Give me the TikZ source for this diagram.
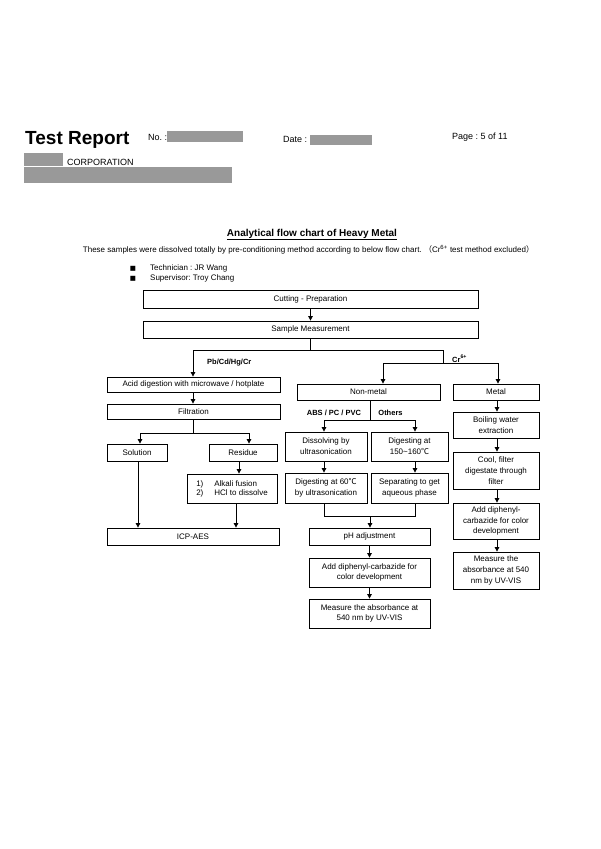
\documentclass[tikz,border=0pt]{standalone}
\usepackage{fontspec}
\setmainfont{Liberation Sans}
\newfontfamily\cjk{Noto Sans CJK SC}
\newfontfamily\dejavu{DejaVu Sans}
\usetikzlibrary{arrows.meta}
\frenchspacing
\begin{document}
\begin{tikzpicture}[x=1pt,y=-1pt,
  box/.style={draw, line width=0.8pt, inner sep=1pt, align=center, font=\fontsize{8}{10.8}\selectfont},
  bx/.style n args={2}{box, minimum width=#1pt, minimum height=#2pt},
  arr/.style={-{Triangle[length=4.5pt,width=4.5pt]}, line width=0.8pt},
  ln/.style={line width=0.8pt},
  lbl/.style={font=\bfseries\fontsize{7.5}{9}\selectfont, inner sep=0pt},
  txt/.style={inner sep=0pt},
  redact/.style={fill=black!40, draw=none}]
\useasboundingbox[fill=white] (0,0) rectangle (600,849);

% ---------- header ----------
\node[txt, anchor=base west, font=\bfseries\fontsize{19}{22}\selectfont] (tr) at (25,144) {Test Report};
\node[txt, anchor=base west, font=\fontsize{9}{11}\selectfont] (no) at (148,140) {No. :};
\fill[redact] (167,131) rectangle (243,142);
\node[txt, anchor=base west, font=\fontsize{9}{11}\selectfont] (date) at (283,142) {Date :};
\fill[redact] (310,135) rectangle (372,145);
\node[txt, anchor=base west, font=\fontsize{9}{11}\selectfont] (page) at (452,139) {Page : 5 of 11};
\fill[redact] (24,153) rectangle (63,166);
\node[txt, anchor=base west, font=\fontsize{9}{11}\selectfont] (corp) at (67,165) {CORPORATION};
\fill[redact] (24,167) rectangle (232,183);

% ---------- title ----------
\node[txt, anchor=base, font=\bfseries\fontsize{10}{12}\selectfont] (title) at (312,236) {\underline{Analytical flow chart of Heavy Metal}};
\node[txt, anchor=base, font=\fontsize{8}{10}\selectfont] (sub) at (308.5,252) {These samples were dissolved totally by pre-conditioning method according to below flow chart.\ {\cjk （}Cr\textsuperscript{6+} test method excluded{\cjk ）}};
\node[txt, anchor=base, font=\dejavu\fontsize{6.5}{8}\selectfont] (b1) at (133,270) {■};
\node[txt, anchor=base west, font=\fontsize{8}{10}\selectfont] (tech) at (150,270) {Technician : JR Wang};
\node[txt, anchor=base, font=\dejavu\fontsize{6.5}{8}\selectfont] (b2) at (133,280) {■};
\node[txt, anchor=base west, font=\fontsize{8}{10}\selectfont] (sup) at (150,280) {Supervisor: Troy Chang};

% ---------- boxes ----------
\node[bx={335}{18}] (cut) at (310.5,299) {Cutting - Preparation};
\node[bx={335}{17}] (samp) at (310.5,329.5) {Sample Measurement};

\node[bx={173}{15}] (acid) at (193.5,384.5) {Acid digestion with microwave / hotplate};
\node[bx={173}{15}] (filt) at (193.5,411.5) {Filtration};
\node[bx={60}{17}] (sol) at (137,452.5) {Solution};
\node[bx={68}{17}] (res) at (243,452.5) {Residue};
\node[bx={90}{29}] (alk) at (232,488.5) {\begin{tabular}{@{}l@{\hspace{11pt}}l@{}}1) & Alkali fusion\\[-1.5pt] 2) & HCl to dissolve\end{tabular}};
\node[bx={172}{17}] (icp) at (193,536.5) {ICP-AES};

\node[bx={143}{16}] (nonm) at (368.5,392) {Non-metal};
\node[bx={86}{16}] (metal) at (496,392) {Metal};
\node[bx={82}{29}] (diss) at (326,446.5) {Dissolving by\\ultrasonication};
\node[bx={77}{29}] (dig150) at (409.5,446.5) {Digesting at\\150\textasciitilde 160{\cjk ℃}};
\node[bx={82}{30}] (dig60) at (326,488) {Digesting at 60{\cjk ℃}\\by ultrasonication};
\node[bx={77}{30}] (sep) at (409.5,488) {Separating to get\\aqueous phase};
\node[bx={121}{17}] (ph) at (369.5,536.5) {pH adjustment};
\node[bx={121}{29}] (add) at (369.5,572.5) {Add diphenyl-carbazide for\\color development};
\node[bx={121}{29}] (meas) at (369.5,613.5) {Measure the absorbance at\\540 nm by UV-VIS};

\node[bx={86}{26}] (boil) at (496,425) {Boiling water\\extraction};
\node[bx={86}{37}] (cool) at (496,470.5) {Cool, filter\\digestate through\\filter};
\node[bx={86}{36}] (add2) at (496,521) {Add diphenyl-\\carbazide for color\\development};
\node[bx={86}{37}] (meas2) at (496,570.5) {Measure the\\absorbance at 540\\nm by UV-VIS};

% ---------- labels ----------
\node[lbl, anchor=base west] (pb) at (207,364) {Pb/Cd/Hg/Cr};
\node[lbl, anchor=base west] (cr6) at (452,362) {Cr\textsuperscript{6+}};
\node[lbl, anchor=base] (abs) at (334,415) {ABS / PC / PVC};
\node[lbl, anchor=base] (oth) at (390.5,415) {Others};

% ---------- connectors ----------
\draw[arr] (cut) -- (samp);
\coordinate (s1) at (310.5,350);
\coordinate (sL) at (193,350);
\coordinate (sR) at (443,350);
\draw[ln] (samp.south) -- (s1);
\draw[ln] (sL) -- (sR);
\draw[arr] (sL) -- (sL |- acid.north);
\coordinate (r1) at (443,363);
\coordinate (rL) at (383,363);
\coordinate (rR) at (498,363);
\draw[ln] (sR) -- (r1);
\draw[ln] (rL) -- (rR);
\draw[arr] (rL) -- (rL |- nonm.north);
\draw[arr] (rR) -- (rR |- metal.north);

% left branch
\draw[arr] (sL |- acid.south) -- (sL |- filt.north);
\coordinate (f1) at (193,433);
\coordinate (fL) at (140,433);
\coordinate (fR) at (249,433);
\draw[ln] (f1 |- filt.south) -- (f1);
\draw[ln] (fL) -- (fR);
\draw[arr] (fL) -- (fL |- sol.north);
\draw[arr] (fR) -- (fR |- res.north);
\coordinate (rs) at (239,0);
\draw[arr] (rs |- res.south) -- (rs |- alk.north);
\coordinate (as) at (236,0);
\draw[arr] (as |- alk.south) -- (as |- icp.north);
\coordinate (ss) at (138,0);
\draw[arr] (ss |- sol.south) -- (ss |- icp.north);

% middle branch
\coordinate (n1) at (370,420);
\coordinate (nL) at (324,420);
\coordinate (nR) at (415,420);
\draw[ln] (n1 |- nonm.south) -- (n1);
\draw[ln] (nL) -- (nR);
\draw[arr] (nL) -- (nL |- diss.north);
\draw[arr] (nR) -- (nR |- dig150.north);
\draw[arr] (nL |- diss.south) -- (nL |- dig60.north);
\draw[arr] (nR |- dig150.south) -- (nR |- sep.north);
\coordinate (j) at (370,516);
\coordinate (jL) at (324,516);
\coordinate (jR) at (415,516);
\draw[ln] (nL |- dig60.south) -- (jL) -- (jR) -- (nR |- sep.south);
\draw[arr] (j) -- (j |- ph.north);
\draw[arr] (ph) -- (add);
\draw[arr] (add) -- (meas);

% right branch
\coordinate (m) at (497,0);
\draw[arr] (m |- metal.south) -- (m |- boil.north);
\draw[arr] (m |- boil.south) -- (m |- cool.north);
\draw[arr] (m |- cool.south) -- (m |- add2.north);
\draw[arr] (m |- add2.south) -- (m |- meas2.north);
\end{tikzpicture}
\end{document}
